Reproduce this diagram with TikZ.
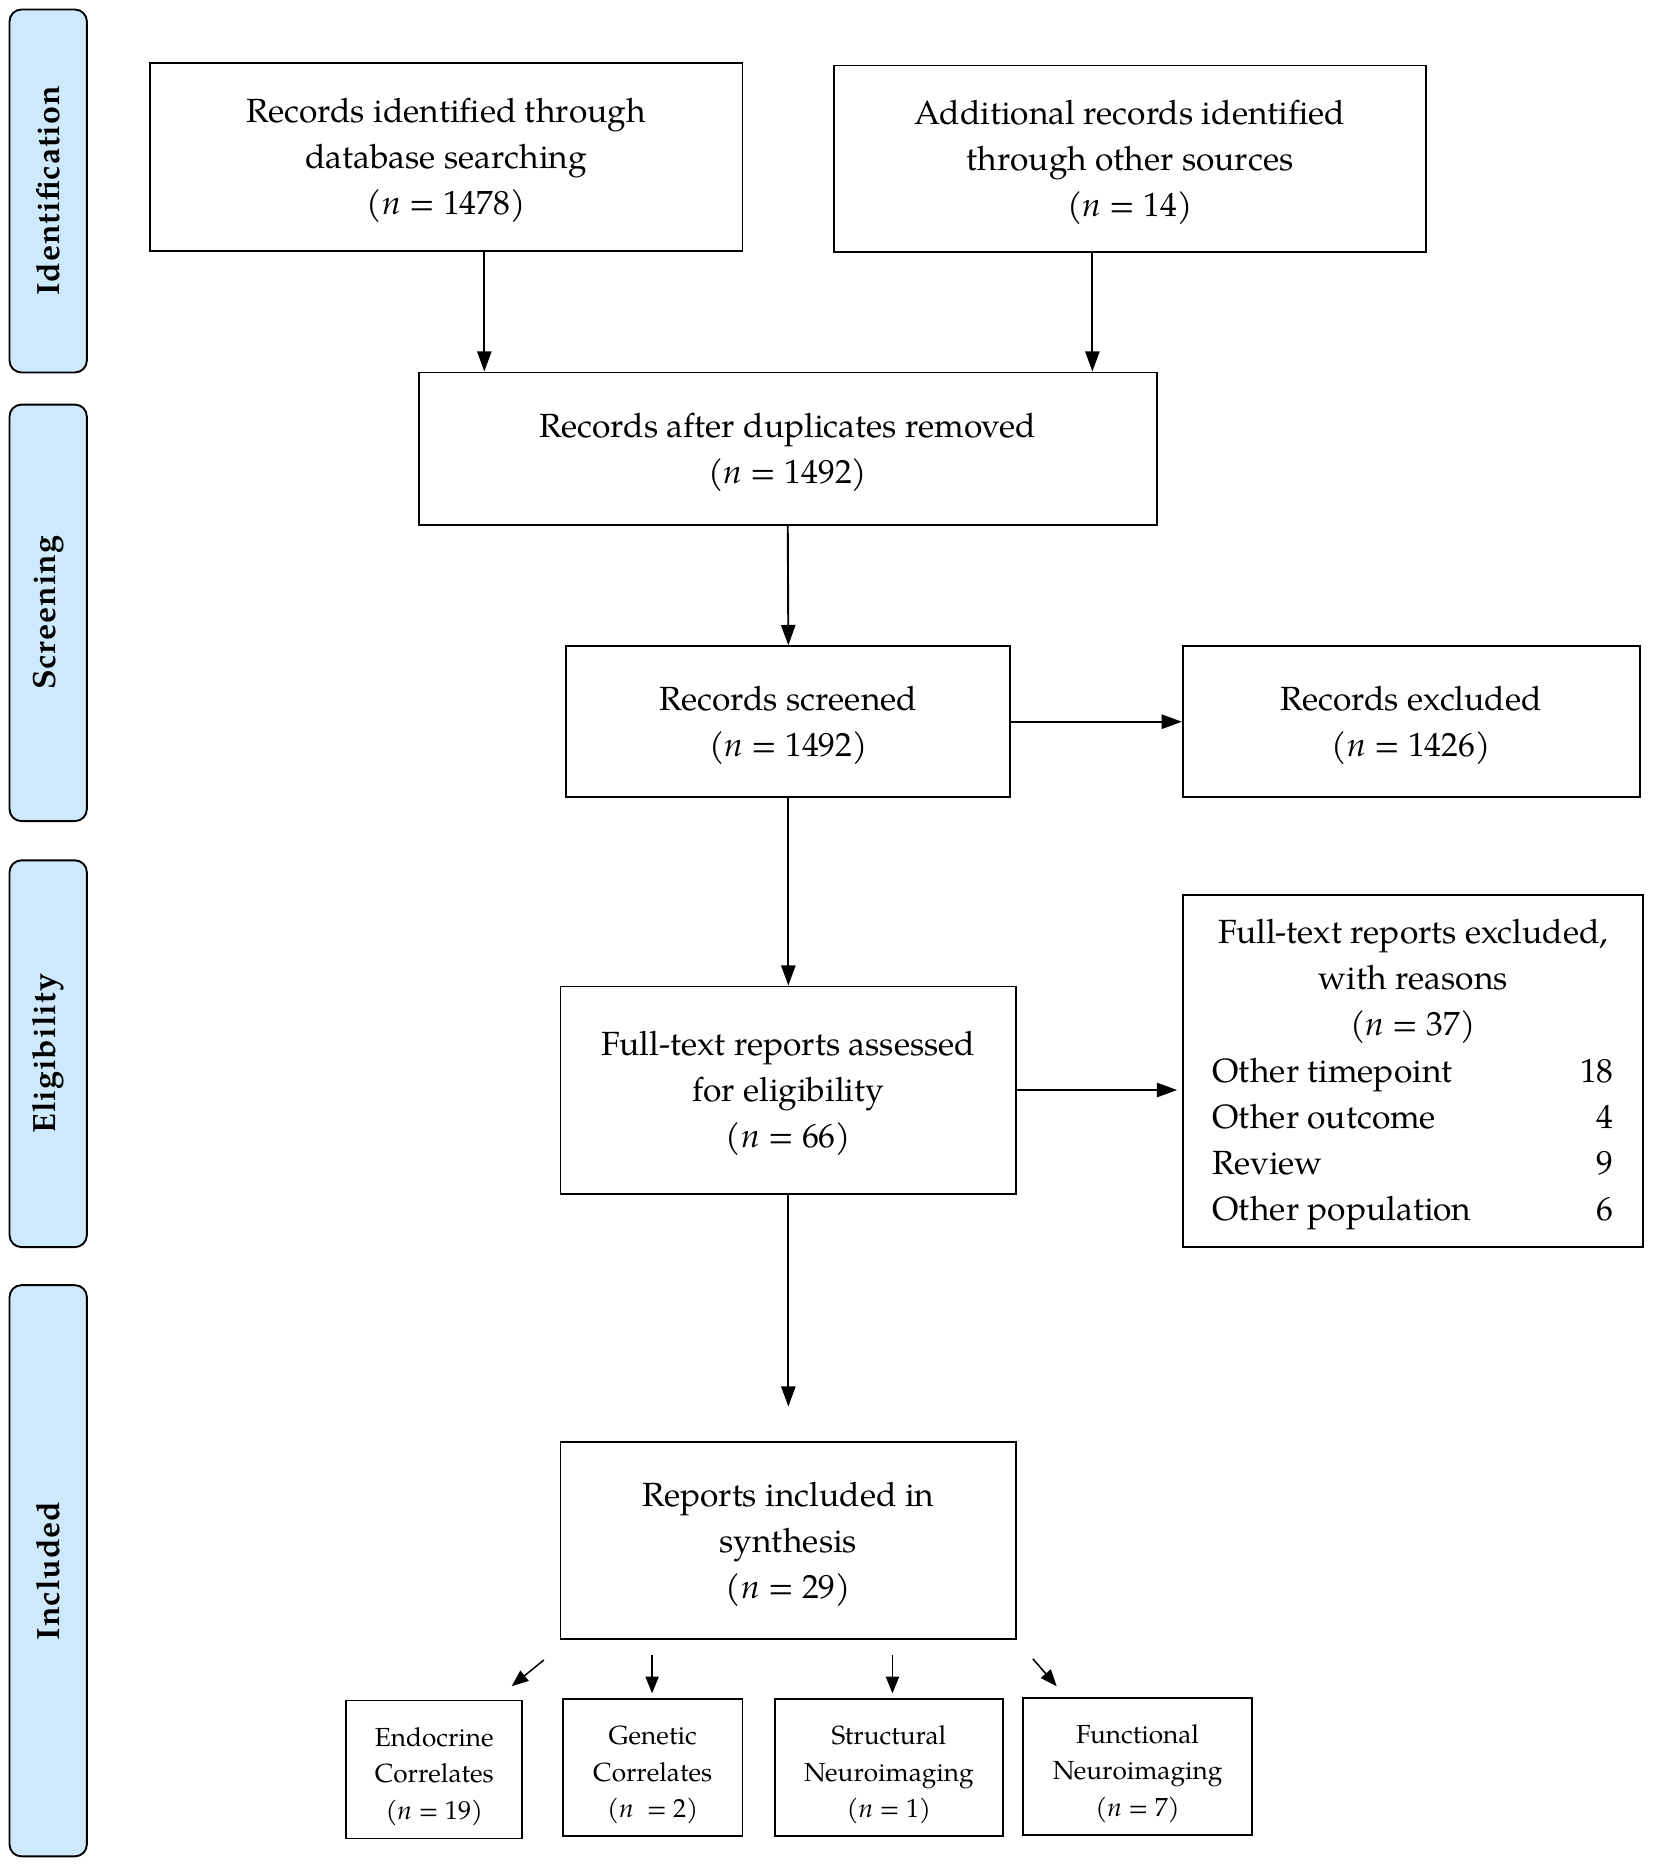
\documentclass[tikz,border=0pt]{standalone}
\usepackage{fontspec}
\setmainfont{TeX Gyre Pagella}
\newfontfamily\sidefont[LetterSpace=3]{TeX Gyre Pagella}
\usetikzlibrary{arrows.meta}
\definecolor{sidefill}{HTML}{CDE9FB}
\newcommand\mystrut{\rule{0pt}{26.5pt}}
\newcommand\smstrut{\rule{0pt}{28pt}}
\begin{document}
\begin{tikzpicture}[x=1pt,y=-1pt,
  box/.style={draw, line width=1.6pt, inner sep=0pt, align=center, font=\fontsize{28.2}{38.7}\selectfont},
  sbox/.style={draw, line width=1.6pt, inner sep=0pt, align=center, font=\fontsize{22}{30.5}\selectfont},
  side/.style={draw, line width=1.6pt, fill=sidefill, rounded corners=10pt, rotate=90, minimum height=65pt, inner sep=0pt, font=\sidefont\bfseries\fontsize{27}{30}\selectfont},
  arr/.style={line width=1.6pt, -{Triangle[length=17pt,width=12pt]}},
  sarr/.style={line width=1.3pt, -{Triangle[length=14pt,width=11pt]}}]
\useasboundingbox (0,0) rectangle (1390,1569.8);
% side bars
\node[side, minimum width=305pt] (sid) at (40.5,160.5) {Identification};
\node[side, minimum width=350pt] (ssc) at (40.5,515) {Screening};
\node[side, minimum width=325pt] (sel) at (40.5,885.5) {Eligibility};
\node[side, minimum width=480pt] (sin) at (40.5,1320) {Included};
% boxes
\node[box, minimum width=498pt, minimum height=158pt] (A) at (375,132) {\mystrut Records identified through\\database searching\\(\textit{n} = 1478)};
\node[box, minimum width=497pt, minimum height=157pt] (B) at (949.5,133.5) {\mystrut Additional records identified\\through other sources\\(\textit{n} = 14)};
\node[box, minimum width=620pt, minimum height=128pt] (C) at (662,377) {\mystrut Records after duplicates removed\\(\textit{n} = 1492)};
\node[box, minimum width=373pt, minimum height=127pt] (D) at (662.5,606.5) {\mystrut Records screened\\(\textit{n} = 1492)};
\node[box, minimum width=384pt, minimum height=127pt] (E) at (1186,606.5) {\mystrut Records excluded\\(\textit{n} = 1426)};
\node[box, minimum width=383pt, minimum height=174pt] (F) at (662.5,916) {\mystrut Full-text reports assessed\\for eligibility\\(\textit{n} = 66)};
\node[box, minimum width=387pt, minimum height=296pt] (G) at (1187.5,900) {\mystrut Full-text reports excluded,\\with reasons\\(\textit{n} = 37)\\
\makebox[337pt]{Other timepoint\hfill 18}\\
\makebox[337pt]{Other outcome\hfill 4}\\
\makebox[337pt]{Review\hfill 9}\\
\makebox[337pt]{Other population\hfill 6}};
\node[box, minimum width=383pt, minimum height=165pt] (H) at (662.5,1294.5) {\mystrut Reports included in\\synthesis\\(\textit{n} = 29)};
\node[sbox, minimum width=148pt, minimum height=116pt] (P) at (365,1487) {\smstrut Endocrine\\Correlates\\(\textit{n} = 19)};
\node[sbox, minimum width=151pt, minimum height=115pt] (Q) at (548.5,1485.5) {\smstrut Genetic\\Correlates\\(\textit{n} ~= 2)};
\node[sbox, minimum width=192pt, minimum height=115pt] (R) at (747,1485.5) {\smstrut Structural\\Neuroimaging\\(\textit{n} = 1)};
\node[sbox, minimum width=192pt, minimum height=115pt] (S) at (956,1484.5) {\smstrut Functional\\Neuroimaging\\(\textit{n} = 7)};
% connectors
\draw[arr] ([xshift=32pt]A.south) -- ([xshift=32pt]A.south |- C.north);
\draw[arr] ([xshift=-31.5pt]B.south) -- ([xshift=-31.5pt]B.south |- C.north);
\draw[arr] (C.south) -- (D.north);
\draw[arr] (D.east) -- (E.west);
\draw[arr] (D.south) -- (F.north);
\draw[arr] (F.east) -- ([xshift=-4pt]F.east -| G.west);
\coordinate (fe) at (662.5,1182);
\draw[arr] (F.south) -- (fe);
\coordinate (a1) at (457,1395); \coordinate (b1) at (430,1417);
\coordinate (a2) at (548,1391); \coordinate (b2) at (548,1423);
\coordinate (a3) at (750,1391); \coordinate (b3) at (750,1423);
\coordinate (a4) at (868,1394); \coordinate (b4) at (888,1417);
\draw[sarr] (a1) -- (b1);
\draw[sarr] (a2) -- (b2);
\draw[sarr] (a3) -- (b3);
\draw[sarr] (a4) -- (b4);
\end{tikzpicture}
\end{document}
